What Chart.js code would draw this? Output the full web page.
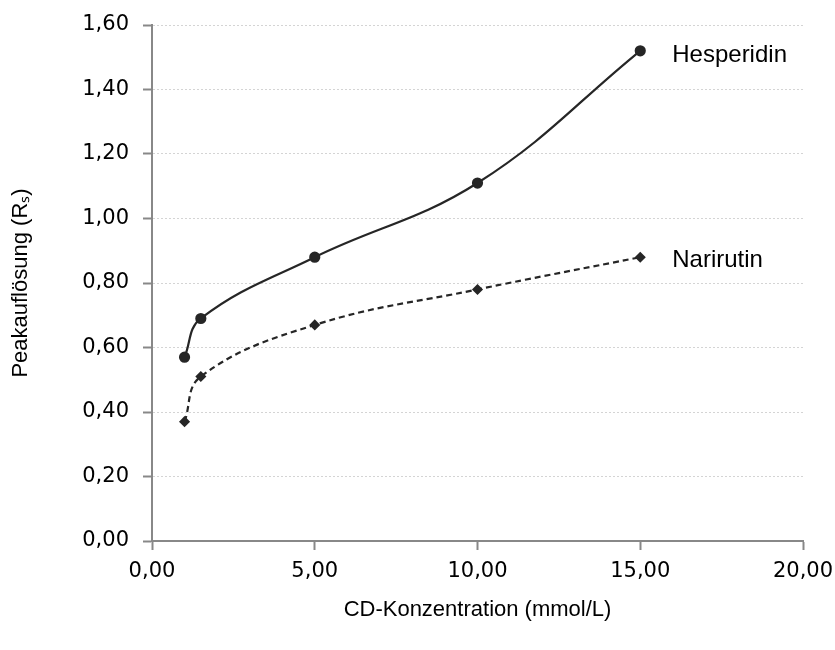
<!DOCTYPE html>
<html>
<head>
<meta charset="utf-8">
<script src="https://cdn.jsdelivr.net/npm/chart.js@4.4.1/dist/chart.umd.min.js"></script>
<style>
    html, body { margin: 0; padding: 0; background: #fff; }
    #wrap { width: 835px; height: 650px; position: relative; }
</style>
</head>
<body>
<div id="wrap"><canvas id="lineChart"></canvas></div>
<script>
// data
const concentrations = [1, 1.5, 5, 10, 15];
const hesperidin = [0.57, 0.69, 0.88, 1.11, 1.52];
const narirutin = [0.37, 0.51, 0.67, 0.78, 0.88];
const seriesNames = ['Hesperidin', 'Narirutin'];
const xTickLabels = ['0,00', '5,00', '10,00', '15,00', '20,00'];
const yTickLabels = ['0,00', '0,20', '0,40', '0,60', '0,80', '1,00', '1,20', '1,40', '1,60'];

const lineColor = '#262626';
const axisColor = '#888888';

function toPoints(ys) {
    return concentrations.map(function (x, i) { return { x: x, y: ys[i] }; });
}

// series name written next to the last point of each line
const endLabels = {
    id: 'endLabels',
    afterDatasetsDraw: function (chart) {
        const ctx = chart.ctx;
        ctx.save();
        ctx.font = '24px "Liberation Sans", Arial, sans-serif';
        ctx.fillStyle = '#000';
        ctx.textBaseline = 'middle';
        chart.data.datasets.forEach(function (ds, i) {
            const meta = chart.getDatasetMeta(i);
            const last = meta.data[meta.data.length - 1];
            ctx.fillText(ds.label, last.x + 32, last.y + (i === 0 ? 5 : 3));
        });
        ctx.restore();
    }
};

const ctx = document.getElementById('lineChart').getContext('2d');
const chart = new Chart(ctx, {
    type: 'line',
    data: {
        datasets: [{
            label: seriesNames[0],
            data: toPoints(hesperidin),
            borderColor: lineColor,
            backgroundColor: lineColor,
            borderWidth: 2.2,
            tension: 0.4,
            pointStyle: 'circle',
            pointRadius: 4.5
        }, {
            label: seriesNames[1],
            data: toPoints(narirutin),
            borderColor: lineColor,
            backgroundColor: lineColor,
            borderWidth: 2.2,
            borderDash: [6, 4],
            tension: 0.4,
            pointStyle: 'rectRot',
            pointRadius: 4
        }]
    },
    options: {
        responsive: true,
        maintainAspectRatio: false,
        animation: false,
        layout: {
            padding: { top: 25, right: 32, bottom: 0, left: 0 }
        },
        scales: {
            x: {
                type: 'linear',
                min: 0,
                max: 20,
                afterBuildTicks: function (scale) {
                    scale.ticks = xTickLabels.map(function (t, i) { return { value: i * 5 }; });
                },
                afterFit: function (scale) {
                    scale.height = 109;
                    scale.paddingLeft = 0;
                    scale.paddingRight = 0;
                },
                grid: {
                    drawOnChartArea: false,
                    tickColor: axisColor,
                    tickLength: 9,
                    tickWidth: 2
                },
                border: { color: axisColor, width: 2 },
                ticks: {
                    color: '#000',
                    padding: 9,
                    maxRotation: 0,
                    font: { family: '"DejaVu Sans"', size: 21 },
                    callback: function (value, index) { return xTickLabels[index]; }
                },
                title: {
                    display: true,
                    text: 'CD-Konzentration (mmol/L)',
                    color: '#000',
                    font: { family: '"Liberation Sans", Arial', size: 22 },
                    padding: { top: 4, bottom: 27 }
                }
            },
            y: {
                min: 0,
                max: 1.6,
                afterBuildTicks: function (scale) {
                    scale.ticks = yTickLabels.map(function (t, i) { return { value: i * 0.2 }; });
                },
                afterFit: function (scale) {
                    scale.width = 152;
                    scale.paddingTop = 0;
                    scale.paddingBottom = 0;
                },
                grid: {
                    color: '#d4d4d4',
                    lineWidth: 1,
                    tickColor: axisColor,
                    tickLength: 9,
                    tickWidth: 2
                },
                border: { color: axisColor, width: 2, dash: [2, 2] },
                ticks: {
                    color: '#000',
                    padding: 14,
                    font: { family: '"DejaVu Sans"', size: 21 },
                    callback: function (value, index) { return yTickLabels[index]; }
                },
                title: {
                    display: true,
                    text: 'Peakauflösung (Rₛ)',
                    color: '#000',
                    font: { family: '"Liberation Sans", Arial', size: 22 },
                    padding: { top: 8, bottom: 4 }
                }
            }
        },
        plugins: {
            legend: { display: false },
            tooltip: { enabled: false }
        }
    },
    plugins: [endLabels]
});
</script>
</body>
</html>
